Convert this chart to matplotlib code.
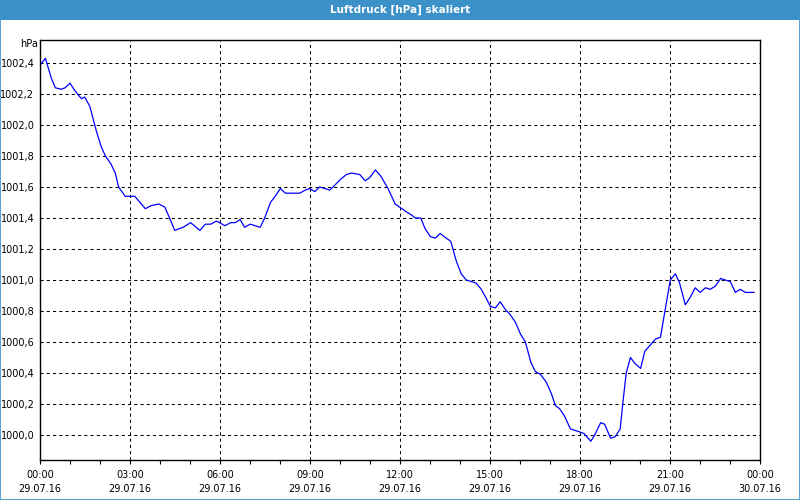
import matplotlib
matplotlib.use("Agg")
import matplotlib.pyplot as plt
from matplotlib.patches import Rectangle
from matplotlib.ticker import MultipleLocator, FuncFormatter

# Luftdruck over one day, hours since 29.07.16 00:00
hours = [0.02, 0.18, 0.38, 0.51, 0.71, 0.84, 1.0, 1.13, 1.29, 1.38, 1.49, 1.66, 1.77,
         1.88, 2.04, 2.18, 2.36, 2.51, 2.62, 2.84, 3.16, 3.29, 3.51, 3.71, 3.96, 4.16,
         4.32, 4.49, 4.77, 5.02, 5.33, 5.51, 5.69, 5.88, 5.99, 6.16, 6.36, 6.51, 6.67,
         6.82, 7.01, 7.18, 7.34, 7.49, 7.68, 7.84, 8.01, 8.18, 8.32, 8.66, 8.84, 8.99,
         9.16, 9.32, 9.66, 9.82, 10.02, 10.21, 10.38, 10.66, 10.84, 10.99, 11.18, 11.36,
         11.6, 11.84, 11.99, 12.21, 12.38, 12.51, 12.69, 12.84, 13.01, 13.18, 13.34,
         13.54, 13.69, 13.88, 14.04, 14.21, 14.38, 14.54, 14.71, 14.88, 15.01, 15.18,
         15.34, 15.51, 15.66, 15.84, 16.02, 16.18, 16.36, 16.51, 16.69, 16.88, 17.04,
         17.18, 17.32, 17.49, 17.68, 17.84, 17.99, 18.13, 18.36, 18.49, 18.69, 18.82,
         19.02, 19.18, 19.34, 19.43, 19.54, 19.68, 19.84, 20.02, 20.16, 20.34, 20.52,
         20.68, 20.84, 21.01, 21.18, 21.32, 21.51, 21.68, 21.84, 22.01, 22.18, 22.34,
         22.51, 22.69, 22.84, 23.01, 23.18, 23.34, 23.51, 23.8]
pressure = [1002.39, 1002.43, 1002.30, 1002.24, 1002.23, 1002.24, 1002.27, 1002.23,
            1002.19, 1002.17, 1002.18, 1002.12, 1002.04, 1001.96, 1001.86, 1001.80,
            1001.75, 1001.69, 1001.60, 1001.54, 1001.54, 1001.51, 1001.46, 1001.48,
            1001.49, 1001.47, 1001.40, 1001.32, 1001.34, 1001.37, 1001.32, 1001.36,
            1001.36, 1001.38, 1001.37, 1001.35, 1001.37, 1001.37, 1001.39, 1001.34,
            1001.36, 1001.35, 1001.34, 1001.40, 1001.50, 1001.54, 1001.59, 1001.56,
            1001.56, 1001.56, 1001.58, 1001.59, 1001.57, 1001.60, 1001.58, 1001.61,
            1001.65, 1001.68, 1001.69, 1001.68, 1001.64, 1001.66, 1001.71, 1001.67,
            1001.59, 1001.49, 1001.47, 1001.44, 1001.42, 1001.40, 1001.40, 1001.33,
            1001.28, 1001.27, 1001.30, 1001.27, 1001.25, 1001.12, 1001.04, 1001.00,
            1000.99, 1000.98, 1000.94, 1000.88, 1000.83, 1000.82, 1000.86, 1000.81,
            1000.78, 1000.73, 1000.65, 1000.60, 1000.47, 1000.41, 1000.39, 1000.34,
            1000.27, 1000.19, 1000.17, 1000.12, 1000.04, 1000.03, 1000.02, 1000.01,
            999.96, 1000.00, 1000.08, 1000.07, 999.98, 999.99, 1000.04, 1000.21,
            1000.40, 1000.50, 1000.46, 1000.43, 1000.54, 1000.58, 1000.62, 1000.63,
            1000.81, 1001.00, 1001.04, 1000.98, 1000.84, 1000.89, 1000.95, 1000.92,
            1000.95, 1000.94, 1000.96, 1001.01, 1001.00, 1000.99, 1000.92, 1000.94,
            1000.92, 1000.92]

x_tick_labels = ["00:00\n29.07.16", "03:00\n29.07.16", "06:00\n29.07.16",
                 "09:00\n29.07.16", "12:00\n29.07.16", "15:00\n29.07.16",
                 "18:00\n29.07.16", "21:00\n29.07.16", "00:00\n30.07.16"]

bar_blue = "#3c91c8"

fig = plt.figure(figsize=(8, 5), dpi=100)
fig.patch.set_facecolor("white")

# title bar and frame
fig.patches.append(Rectangle((0, 0.96), 1, 0.04, transform=fig.transFigure,
                             facecolor=bar_blue, edgecolor="none", zorder=0))
fig.patches.append(Rectangle((0.0006, 0.001), 0.9988, 0.998, transform=fig.transFigure,
                             facecolor="none", edgecolor=bar_blue, linewidth=1.2, zorder=1))
fig.text(0.5, 0.98, "Luftdruck [hPa] skaliert", color="white", fontsize=7.5,
         fontweight="bold", ha="center", va="center")

ax = fig.add_axes([0.05, 0.08, 0.9, 0.84])
ax.plot(hours, pressure, color="#0000ff", linewidth=0.9)

ax.set_xlim(0, 24)
ax.set_ylim(999.839, 1002.548)

ax.set_xticks(range(0, 25, 3))
ax.set_xticklabels(x_tick_labels)
for lbl in ax.get_xticklabels():
    lbl.set_linespacing(1.55)
ax.xaxis.set_minor_locator(MultipleLocator(1))
ax.tick_params(axis="x", which="both", direction="out", length=3, width=0.8,
               labelsize=7, pad=4)
ax.tick_params(axis="y", length=0, labelsize=7, pad=4)

ax.yaxis.set_major_locator(MultipleLocator(0.2))
ax.yaxis.set_major_formatter(FuncFormatter(lambda v, p: f"{v:.1f}".replace(".", ",")))

ax.grid(True, which="major", color="black", linestyle=(0, (3, 3)), linewidth=0.75)
for s in ax.spines.values():
    s.set_linewidth(1.0)
    s.set_color("black")

fig.text(0.047, 0.912, "hPa", fontsize=7, ha="right", va="center")

fig.savefig("out.png", dpi=100)
